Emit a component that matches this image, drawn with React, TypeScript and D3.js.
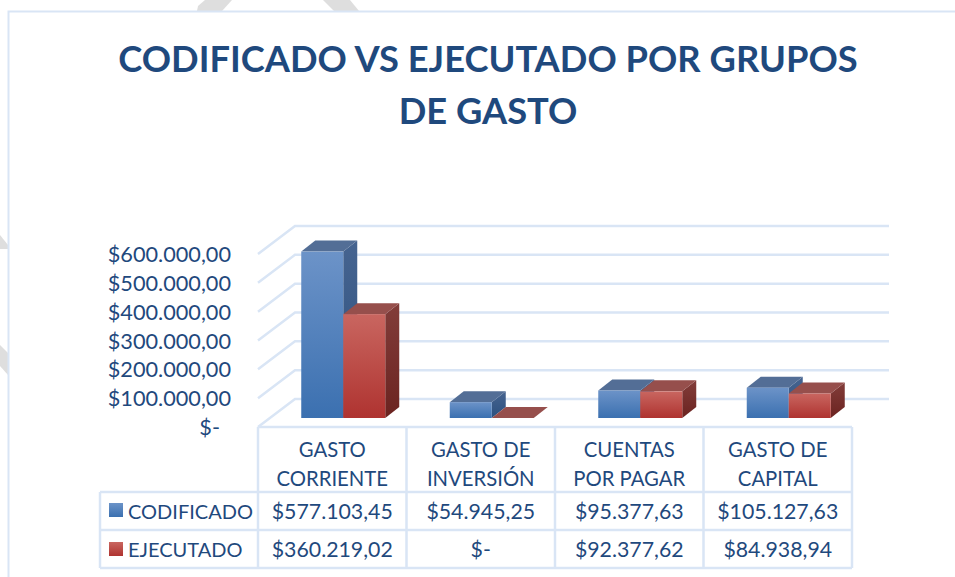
import React from "react";
import * as d3 from "d3";

const titleLines = ["CODIFICADO VS EJECUTADO POR GRUPOS", "DE GASTO"];
const categories = [["GASTO", "CORRIENTE"], ["GASTO DE", "INVERSIÓN"], ["CUENTAS", "POR PAGAR"], ["GASTO DE", "CAPITAL"]];
const seriesNames = ["CODIFICADO", "EJECUTADO"];
const codificado = [577103.45, 54945.25, 95377.63, 105127.63];
const ejecutado = [360219.02, 0, 92377.62, 84938.94];
const axisTicks = [0, 100000, 200000, 300000, 400000, 500000, 600000];

const money = (v: number) => {
  if (v === 0) return "$-";
  const [a, b] = v.toFixed(2).split(".");
  return "$" + a.replace(/\B(?=(\d{3})+$)/g, ".") + "," + b;
};

const INK = "#1F497D";
const GRID = "#D9E5F5";
const FONT = "Lato, Carlito, Calibri, sans-serif";

const frontX0 = 258, plotX1 = 852, frontY0 = 427;
const depthX = 37, depthY = 28;
const barDX = 14, barDY = 11, barInset = 9;
const rowY = [427, 492, 530, 568];
const legendX = 100;

const y = d3.scaleLinear().domain([0, 600000]).range([0, 173]);
const x = d3.scaleBand<number>().domain(d3.range(categories.length)).range([frontX0, plotX1]);
const barW = 42;

const colors = [
  { top: "#536E96", side0: "#466490", side1: "#2C507F", f0: "#6C93C8", f1: "#3B70B0" },
  { top: "#964F4C", side0: "#823D3A", side1: "#6B2320", f0: "#C96660", f1: "#AF3330" },
];

function Bar({ cx, s, v }: { cx: number; s: number; v: number }) {
  const c = colors[s];
  const base = frontY0 - barInset;
  const h = y(v);
  const left = cx + (s - 1) * barW;
  const right = left + barW;
  const top = base - h;
  const poly = (p: number[][]) => p.map((q) => q.join(",")).join(" ");
  return (
    <g>
      <polygon points={poly([[right, top], [right + barDX, top - barDY], [right + barDX, base - barDY], [right, base]])} fill={`url(#side${s})`} />
      <polygon points={poly([[left, top], [left + barDX, top - barDY], [right + barDX, top - barDY], [right, top]])} fill={c.top} />
      {h > 0 && <rect x={left} y={top} width={barW} height={h} fill={`url(#front${s})`} />}
    </g>
  );
}

export default function App() {
  const cols = [frontX0, ...categories.map((_, i) => (x(i) as number) + x.bandwidth())];
  const t = { fontFamily: FONT, fill: INK } as const;
  return (
    <svg width={955} height={577} style={{ position: "absolute", left: 0, top: 0, background: "#fff" }}>
      <defs>
        {colors.map((c, s) => (
          <React.Fragment key={s}>
            <linearGradient id={`front${s}`} x1="0" y1="0" x2="0" y2="1">
              <stop offset="0" stopColor={c.f0} />
              <stop offset="1" stopColor={c.f1} />
            </linearGradient>
            <linearGradient id={`side${s}`} x1="0" y1="0" x2="0" y2="1">
              <stop offset="0" stopColor={c.side0} />
              <stop offset="1" stopColor={c.side1} />
            </linearGradient>
          </React.Fragment>
        ))}
      </defs>

      {/* scanned-page watermark stripes, cut off by the chart frame */}
      <g fill="#DEDEDE">
        <polygon points="205,0 232,0 222,11 197,11 198,6" />
        <polygon points="323,0 350,0 359,11 334,11" />
        <polygon points="0,235 8,245 8,249 0,249" />
        <polygon points="0,345 8,353 8,375 0,366" />
      </g>

      <path d="M8.5,577 V11.5 H955" fill="none" stroke={GRID} strokeWidth={2} />

      {titleLines.map((l, i) => (
        <text key={l} x={488} y={[72, 124][i]} textAnchor="middle" fontSize={36.3} fontWeight={700} {...t}>{l}</text>
      ))}

      {/* walls and gridlines */}
      <g stroke={GRID} strokeWidth={2.5} fill="none">
        {axisTicks.map((d) => {
          const fy = frontY0 - y(d);
          return <polyline key={d} points={`${frontX0},${fy} ${frontX0 + depthX},${fy - depthY} 889,${fy - depthY}`} />;
        })}
      </g>

      {categories.map((_, i) => {
        const cx = (x(i) as number) + x.bandwidth() / 2 + 11;
        return (
          <g key={i}>
            <Bar cx={cx} s={0} v={codificado[i]} />
            <Bar cx={cx} s={1} v={ejecutado[i]} />
          </g>
        );
      })}

      {axisTicks.map((d) => (
        <text key={d} x={d === 0 ? 220 : 231} y={frontY0 - y(d) + 8} textAnchor="end" fontSize={21.7} {...t}>{money(d)}</text>
      ))}

      {/* data table */}
      <g stroke={GRID} strokeWidth={2.5} fill="none">
        <line x1={frontX0} x2={plotX1} y1={rowY[0]} y2={rowY[0]} />
        {rowY.slice(1).map((r) => <line key={r} x1={legendX} x2={plotX1} y1={r} y2={r} />)}
        {cols.map((c) => <line key={c} x1={c} x2={c} y1={rowY[0]} y2={rowY[3]} />)}
        <line x1={legendX} x2={legendX} y1={rowY[1]} y2={rowY[3]} />
      </g>
      {categories.map((lines, i) => {
        const cx = (x(i) as number) + x.bandwidth() / 2;
        return (
          <g key={i}>
            {lines.map((l, k) => (
              <text key={k} x={cx} y={457 + k * 29} textAnchor="middle" fontSize={20.3} {...t}>{l}</text>
            ))}
            <text x={cx} y={519} textAnchor="middle" fontSize={21.3} {...t}>{money(codificado[i])}</text>
            <text x={cx} y={557} textAnchor="middle" fontSize={21.3} {...t}>{money(ejecutado[i])}</text>
          </g>
        );
      })}
      {seriesNames.map((n, s) => (
        <g key={n}>
          <rect x={109} y={[503, 542][s]} width={14} height={14} fill={`url(#front${s})`} />
          <text x={128} y={[519, 557][s]} fontSize={20} {...t}>{n}</text>
        </g>
      ))}
    </svg>
  );
}
